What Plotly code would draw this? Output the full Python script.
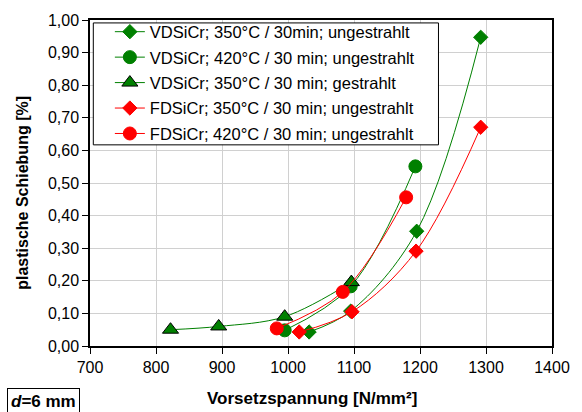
import plotly.graph_objects as go

# Data
names = [
    "VDSiCr; 350°C / 30min; ungestrahlt",
    "VDSiCr; 420°C / 30 min; ungestrahlt",
    "VDSiCr; 350°C / 30 min; gestrahlt",
    "FDSiCr; 350°C / 30 min; ungestrahlt",
    "FDSiCr; 420°C / 30 min; ungestrahlt",
]
x_vd350 = [1032, 1095, 1195, 1292]
y_vd350 = [0.043, 0.107, 0.352, 0.947]
x_vd420 = [995, 1095, 1193]
y_vd420 = [0.048, 0.183, 0.551]
x_vd350g = [822, 895, 995, 1096]
y_vd350g = [0.050, 0.060, 0.090, 0.196]
x_fd350 = [1017, 1097, 1194, 1292]
y_fd350 = [0.043, 0.105, 0.291, 0.671]
x_fd420 = [983, 1083, 1179]
y_fd420 = [0.054, 0.166, 0.456]

x_ticks = [700, 800, 900, 1000, 1100, 1200, 1300, 1400]
y_ticks = [0.0, 0.1, 0.2, 0.3, 0.4, 0.5, 0.6, 0.7, 0.8, 0.9, 1.0]

GREEN = "#008000"
RED = "#FF0000"
FONT = "Arial, 'Liberation Sans', sans-serif"

series = [
    (x_vd350, y_vd350, GREEN, "diamond", 11, None),
    (x_vd420, y_vd420, GREEN, "circle", 13, None),
    (x_vd350g, y_vd350g, GREEN, "triangle-up", 14, "black"),
    (x_fd350, y_fd350, RED, "diamond", 11, None),
    (x_fd420, y_fd420, RED, "circle", 13, None),
]

fig = go.Figure()
for i, ((xs, ys, col, sym, sz, outline), nm) in enumerate(zip(series, names)):
    fig.add_trace(go.Scatter(
        x=xs, y=ys, name=nm, mode="lines+markers", legendgroup=f"g{i}",
        line=dict(color=col, width=1, shape="spline", smoothing=1.0),
        marker=dict(symbol=sym, size=sz, color=col,
                    line=dict(color=outline if outline else col, width=1)),
    ))

fig.update_layout(
    width=582, height=412,
    margin=dict(l=90, r=24, t=15, b=66),
    paper_bgcolor="white", plot_bgcolor="white",
    separators=",.",
    font=dict(family=FONT, size=16, color="black"),
    showlegend=True,
    legend=dict(
        x=0.043, y=1.017, xanchor="left", yanchor="top",
        bgcolor="rgba(0,0,0,0)", borderwidth=0,
        font=dict(family=FONT, size=16.5, color="black"),
        itemwidth=30, tracegroupgap=1,
    ),
    shapes=[
        dict(type="rect", xref="x", yref="paper",
             x0=705, x1=1228, y0=0.617, y1=0.991,
             line=dict(color="black", width=1), fillcolor="white", layer="above"),
    ],
    xaxis=dict(
        range=[700, 1400], tickvals=x_ticks, tickformat="d",
        showgrid=True, gridcolor="#d0d0d0", gridwidth=1,
        showline=True, linecolor="black", linewidth=1.5, mirror=True,
        ticks="outside", ticklen=6, tickcolor="black",
        tickfont=dict(family=FONT, size=16), zeroline=False,
    ),
    yaxis=dict(
        range=[0, 1.0], tickvals=y_ticks, tickformat=".2f",
        showgrid=True, gridcolor="#d0d0d0", gridwidth=1,
        showline=True, linecolor="black", linewidth=1.5, mirror=True,
        ticks="outside", ticklen=6, tickcolor="black",
        tickfont=dict(family=FONT, size=16), zeroline=False,
    ),
    annotations=[
        dict(text="<b>Vorsetzspannung [N/mm²]</b>", xref="paper", yref="paper",
             x=0.48, y=-0.16, xanchor="center", yanchor="middle", showarrow=False,
             font=dict(family=FONT, size=17)),
        dict(text="<b>plastische Schiebung [%]</b>", xref="paper", yref="paper",
             x=-0.145, y=0.47, xanchor="center", yanchor="middle", showarrow=False,
             textangle=-90, font=dict(family=FONT, size=16)),
        dict(text="<b><i>d</i>=6 mm</b>", xref="paper", yref="paper",
             x=-0.179, y=-0.128, xanchor="left", yanchor="top", showarrow=False,
             bordercolor="black", borderwidth=1, borderpad=3, bgcolor="white",
             font=dict(family=FONT, size=17)),
    ],
)

fig.write_html("out.html")
